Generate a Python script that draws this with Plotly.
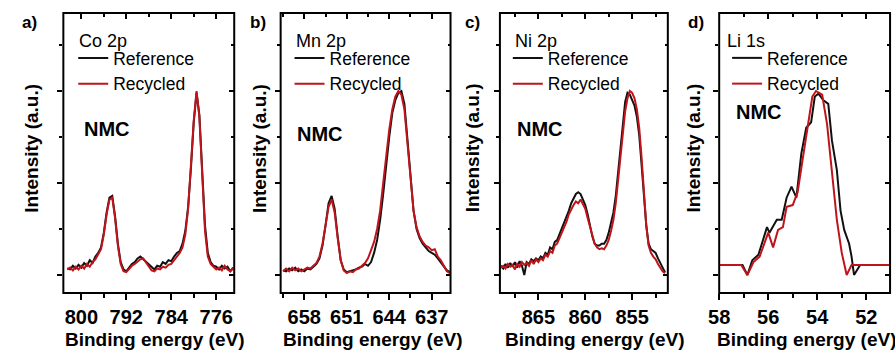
import numpy as np
import plotly.graph_objects as go

# ---------------- data ----------------
# Co 2p (uniform 0.5 eV grid, high -> low binding energy)
co_energy = np.round(np.arange(802.5, 772.9, -0.5), 2)
co_reference = [0.035, 0.03, 0.05, 0.035, 0.055, 0.04, 0.065, 0.05, 0.08, 0.065,
                0.1, 0.12, 0.15, 0.23, 0.34, 0.42, 0.43, 0.32, 0.17, 0.07,
                0.03, 0.02, 0.04, 0.06, 0.07, 0.09, 0.1, 0.085, 0.075, 0.055,
                0.04, 0.03, 0.05, 0.045, 0.07, 0.06, 0.08, 0.075, 0.1, 0.12,
                0.13, 0.17, 0.24, 0.37, 0.58, 0.83, 0.99, 0.87, 0.57, 0.27,
                0.12, 0.07, 0.05, 0.045, 0.03, 0.05, 0.035, 0.045, 0.02, 0.04]
co_recycled = [0.03, 0.04, 0.025, 0.045, 0.03, 0.05, 0.035, 0.06, 0.045, 0.07,
               0.085, 0.11, 0.14, 0.22, 0.33, 0.41, 0.42, 0.31, 0.16, 0.06,
               0.02, 0.015, 0.035, 0.05, 0.06, 0.075, 0.085, 0.09, 0.07, 0.05,
               0.025, 0.02, 0.035, 0.03, 0.045, 0.04, 0.055, 0.06, 0.08, 0.1,
               0.12, 0.15, 0.22, 0.36, 0.58, 0.84, 1.0, 0.86, 0.55, 0.24,
               0.1, 0.06, 0.045, 0.03, 0.04, 0.025, 0.05, 0.03, 0.02, 0.035]

# Mn 2p
mn_energy = np.round(np.arange(661.5, 633.9, -0.5), 2)
mn_reference = [0.025, 0.02, 0.035, 0.025, 0.04, 0.02, 0.03, 0.02, 0.035, 0.03,
                0.045, 0.06, 0.09, 0.16, 0.27, 0.39, 0.43, 0.36, 0.21, 0.08,
                0.03, 0.015, 0.02, 0.025, 0.03, 0.04, 0.045, 0.06, 0.05, 0.07,
                0.12, 0.19, 0.3, 0.44, 0.6, 0.75, 0.88, 0.95, 0.99, 1.0,
                0.93, 0.74, 0.52, 0.35, 0.25, 0.2, 0.17, 0.15, 0.13, 0.12,
                0.11, 0.09, 0.07, 0.045, 0.025, 0.015]
mn_recycled = [0.02, 0.035, 0.02, 0.04, 0.025, 0.035, 0.02, 0.03, 0.04, 0.035,
               0.05, 0.065, 0.1, 0.17, 0.27, 0.37, 0.41, 0.34, 0.2, 0.08,
               0.025, 0.01, 0.02, 0.015, 0.03, 0.035, 0.05, 0.065, 0.09, 0.13,
               0.18, 0.25, 0.35, 0.5, 0.65, 0.79, 0.9, 0.97, 1.0, 0.98,
               0.9, 0.71, 0.5, 0.35, 0.26, 0.21, 0.18, 0.16, 0.15, 0.135,
               0.14, 0.1, 0.08, 0.05, 0.02, 0.01]

# Ni 2p
ni_energy = np.round(np.arange(869.0, 851.4, -0.25), 2)
ni_reference = [0.05, 0.035, 0.06, 0.04, 0.065, 0.045, 0.07, 0.04, 0.075, 0.05,
                0.0, 0.07, 0.06, 0.085, 0.075, 0.09, 0.08, 0.1, 0.09, 0.12,
                0.11, 0.15, 0.14, 0.18, 0.19, 0.22, 0.25, 0.28, 0.31, 0.35,
                0.39, 0.42, 0.44, 0.45, 0.44, 0.41, 0.38, 0.33, 0.27, 0.21,
                0.17, 0.16, 0.16, 0.17, 0.17, 0.19, 0.23, 0.28, 0.34, 0.43,
                0.56, 0.7, 0.83, 0.94, 0.99, 0.98, 0.95, 0.92, 0.86, 0.76,
                0.6, 0.42, 0.27, 0.17, 0.14, 0.13, 0.12, 0.09, 0.06, 0.04,
                0.015]
ni_recycled = [0.04, 0.05, 0.035, 0.06, 0.045, 0.055, 0.03, 0.06, 0.045, 0.07,
               0.055, 0.065, 0.05, 0.08, 0.06, 0.085, 0.07, 0.09, 0.08, 0.11,
               0.1, 0.13, 0.12, 0.16, 0.17, 0.2, 0.22, 0.26, 0.29, 0.33,
               0.36, 0.38, 0.4, 0.39, 0.41, 0.38, 0.36, 0.31, 0.26, 0.21,
               0.17, 0.15, 0.14, 0.145, 0.14, 0.16, 0.19, 0.24, 0.3, 0.39,
               0.52, 0.66, 0.78, 0.89, 0.96, 1.0, 0.99, 0.96, 0.9, 0.8,
               0.64, 0.44, 0.27, 0.16, 0.12, 0.1, 0.085, 0.06, 0.04, 0.02,
               0.01]

# Li 1s
li_ref_energy = [58.0, 57.05, 56.85, 56.65, 56.4, 56.05, 55.95, 55.65, 55.45, 55.25,
                 55.05, 54.85, 54.65, 54.45, 54.25, 54.1, 53.95, 53.75, 53.55, 53.4,
                 53.2, 53.05, 52.9, 52.7, 52.6, 52.5, 52.25, 51.0]
li_reference = [0.054, 0.054, 0.0, 0.08, 0.11, 0.26, 0.23, 0.3, 0.3, 0.42,
                0.48, 0.42, 0.66, 0.8, 0.83, 0.97, 0.985, 0.95, 0.93, 0.73,
                0.57, 0.35, 0.245, 0.17, 0.1, 0.0, 0.054, 0.054]
li_rec_energy = [58.0, 57.1, 56.85, 56.6, 56.35, 56.15, 56.0, 55.8, 55.6, 55.4,
                 55.25, 55.0, 54.8, 54.6, 54.4, 54.2, 54.05, 53.8, 53.6, 53.4,
                 53.2, 53.0, 52.8, 52.6, 51.0]
li_recycled = [0.054, 0.054, 0.0, 0.07, 0.1, 0.17, 0.23, 0.15, 0.245, 0.26,
               0.37, 0.38, 0.45, 0.625, 0.8, 0.97, 1.0, 0.98, 0.82, 0.55,
               0.3, 0.12, 0.0, 0.054, 0.054]

# axis ticks
co_ticks = [800, 792, 784, 776]
mn_ticks = [658, 651, 644, 637]
ni_ticks = [865, 860, 855]
li_ticks = [58, 56, 54, 52]

series_names = ["Reference", "Recycled"]
panel_letters = ["a)", "b)", "c)", "d)"]
panel_elements = ["Co 2p", "Mn 2p", "Ni 2p", "Li 1s"]
sample_label = "NMC"
x_title = "Binding energy (eV)"
y_title = "Intensity (a.u.)"

# ---------------- styling ----------------
W, H = 895, 352
FONT = "Liberation Sans, Arial, sans-serif"
BLACK = "#111111"
RED = "#c0141c"


def px(x):
    return x / W


def py(y):
    return 1 - y / H


panels = [
    dict(ref=(co_energy, co_reference), rec=(co_energy, co_recycled), ticks=co_ticks,
         minor=4, xr=[803.2, 772.8], frame=(53, 226), xtitle_x=145,
         ytitle_x=20, letter_x=19, elem_x=67, leg_x=63, nmc=(72, 129)),
    dict(ref=(mn_energy, mn_reference), rec=(mn_energy, mn_recycled), ticks=mn_ticks,
         minor=3.5, xr=[661.9, 633.9], frame=(273, 445), xtitle_x=366,
         ytitle_x=251, letter_x=250, elem_x=287, leg_x=282, nmc=(288, 134)),
    dict(ref=(ni_energy, ni_reference), rec=(ni_energy, ni_recycled), ticks=ni_ticks,
         minor=2.5, xr=[869.1, 851.2], frame=(495, 665), xtitle_x=591,
         ytitle_x=467, letter_x=467, elem_x=508, leg_x=503, nmc=(510, 129)),
    dict(ref=(li_ref_energy, li_reference), rec=(li_rec_energy, li_recycled), ticks=li_ticks,
         minor=1, xr=[58.0, 51.03], frame=(717, 890), xtitle_x=805,
         ytitle_x=690, letter_x=694, elem_x=723, leg_x=725, nmc=(732, 112)),
]

FRAME_TOP, FRAME_BOTTOM = 13, 293
Y_RANGE = [-0.098, 1.424]
TICK = dict(tickwidth=1.5, tickcolor="black")

fig = go.Figure()
layout = dict(
    width=W, height=H, margin=dict(l=0, r=0, t=0, b=0),
    paper_bgcolor="white", plot_bgcolor="white",
    font=dict(family=FONT, color="black"),
    annotations=[], shapes=[],
)


def note(text, x, y, size, bold=False, xanchor="center", angle=0):
    return dict(text=text, x=px(x), y=py(y), xref="paper", yref="paper",
                showarrow=False, xanchor=xanchor, yanchor="middle", textangle=angle,
                font=dict(family=FONT, size=size, color="black",
                          weight="bold" if bold else "normal"))


for i, p in enumerate(panels, start=1):
    sfx = "" if i == 1 else str(i)
    xa, ya = f"x{sfx}", f"y{sfx}"
    legend_name = "legend" if i == 1 else f"legend{i}"
    for (xs, ys), name, color in ((p["ref"], series_names[0], BLACK),
                                  (p["rec"], series_names[1], RED)):
        fig.add_trace(go.Scatter(
            x=list(xs), y=ys, mode="lines", name=name,
            line=dict(color=color, width=2),
            xaxis=xa, yaxis=ya, legend=legend_name, showlegend=True,
        ))

    dom_x = [px(p["frame"][0]), px(p["frame"][1])]
    dom_y = [py(FRAME_BOTTOM), py(FRAME_TOP)]
    tick_font = dict(family=FONT, size=20, color="black", weight="bold")

    # bottom / left axes: outward ticks, labels on the bottom only
    layout[f"xaxis{sfx}"] = dict(
        domain=dom_x, anchor=ya, range=p["xr"], showgrid=False, zeroline=False,
        showline=False,
        tickmode="array", tickvals=p["ticks"], ticktext=[str(t) for t in p["ticks"]],
        ticks="outside", ticklen=6, **TICK, tickfont=tick_font,
        minor=dict(ticks="outside", ticklen=4, **TICK,
                   tick0=p["ticks"][0], dtick=p["minor"], showgrid=False),
    )
    layout[f"yaxis{sfx}"] = dict(
        domain=dom_y, anchor=xa, range=Y_RANGE, showgrid=False, zeroline=False,
        showline=False,
        tickmode="array", tickvals=[0, 0.5, 1], showticklabels=False,
        ticks="outside", ticklen=5, **TICK,
        minor=dict(ticks="outside", ticklen=3, **TICK,
                   tick0=0, dtick=0.25, showgrid=False),
    )
    # top / right axes: inward ticks
    j = i + 4
    layout[f"xaxis{j}"] = dict(
        overlaying=xa, anchor=ya, side="top", range=p["xr"], showgrid=False,
        zeroline=False, showline=False, showticklabels=False,
        tickmode="array", tickvals=p["ticks"],
        ticks="inside", ticklen=6, **TICK,
        minor=dict(ticks="inside", ticklen=4, **TICK,
                   tick0=p["ticks"][0], dtick=p["minor"], showgrid=False),
    )
    layout[f"yaxis{j}"] = dict(
        overlaying=ya, anchor=xa, side="right", range=Y_RANGE, showgrid=False,
        zeroline=False, showline=False, showticklabels=False,
        tickmode="array", tickvals=[0, 0.5, 1],
        ticks="inside", ticklen=5, **TICK,
        minor=dict(ticks="inside", ticklen=3, **TICK,
                   tick0=0, dtick=0.25, showgrid=False),
    )
    fig.add_trace(go.Scatter(x=[None], y=[None], xaxis=f"x{j}", yaxis=f"y{j}",
                             showlegend=False, hoverinfo="skip"))

    # plot frame around the panel's axis domain
    layout["shapes"].append(dict(
        type="rect", xref=f"{xa} domain", yref=f"{ya} domain",
        x0=0, x1=1, y0=0, y1=1, layer="above",
        line=dict(color="black", width=2), fillcolor="rgba(0,0,0,0)",
    ))

    layout[legend_name] = dict(
        x=px(p["leg_x"]), y=py(40), xanchor="left", yanchor="top",
        bgcolor="rgba(0,0,0,0)", borderwidth=0, tracegroupgap=0,
        font=dict(family=FONT, size=17.5, color="black"), itemwidth=30,
    )

    ann = layout["annotations"]
    ann.append(note(panel_letters[i - 1], p["letter_x"], 23, 17, bold=True))
    ann.append(note(panel_elements[i - 1], p["elem_x"], 41, 18, xanchor="left"))
    ann.append(note(sample_label, p["nmc"][0], p["nmc"][1], 20, bold=True, xanchor="left"))
    ann.append(note(y_title, p["ytitle_x"], 148, 19, bold=True, angle=-90))
    ann.append(note(x_title, p["xtitle_x"], 339, 19, bold=True))

fig.update_layout(**layout)
fig.write_html("out.html")
